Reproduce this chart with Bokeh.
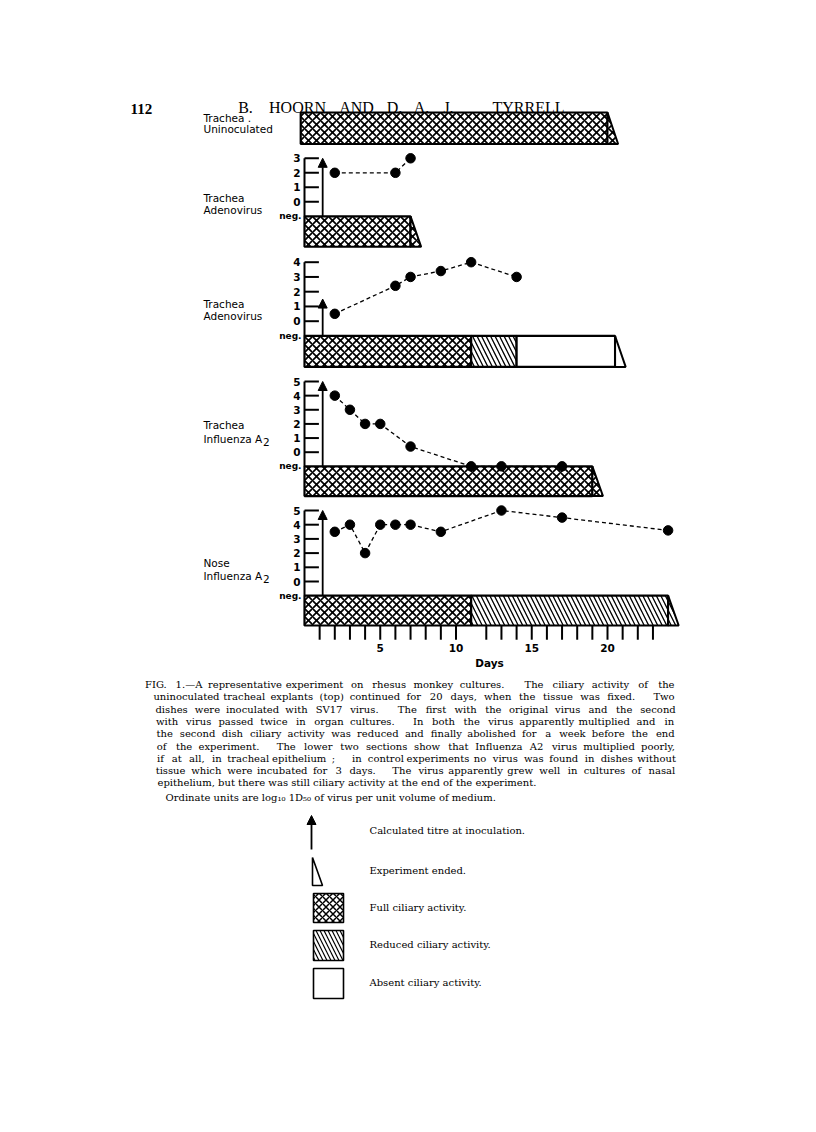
import re
from bokeh.plotting import figure
from bokeh.models import Range1d, Arrow, NormalHead
from bokeh.core.properties import value
from bokeh.embed import file_html
from bokeh.resources import INLINE

# ---------------- data ----------------
NEG = -1  # "neg." level on every titre axis

# panel 1: Trachea, uninoculated (bar only)
p1_seg_start = [-0.25]
p1_seg_end = [20]
p1_seg_state = ["full"]

# panel 2: Trachea, adenovirus (original virus)
p2_days = [2, 6, 7]
p2_titre = [2, 2, 3]
p2_ticks = [0, 1, 2, 3]
p2_inoc = 3
p2_seg_start = [0]
p2_seg_end = [7]
p2_seg_state = ["full"]

# panel 3: Trachea, adenovirus (passed twice)
p3_days = [2, 6, 7, 9, 11, 14]
p3_titre = [0.5, 2.4, 3, 3.4, 4, 3]
p3_ticks = [0, 1, 2, 3, 4]
p3_inoc = 1.5
p3_seg_start = [0, 11, 14]
p3_seg_end = [11, 14, 20.5]
p3_seg_state = ["full", "reduced", "absent"]

# panel 4: Trachea, influenza A2
p4_days = [2, 3, 4, 5, 7, 11, 13, 17]
p4_titre = [4, 3, 2, 2, 0.4, NEG, NEG, NEG]
p4_ticks = [0, 1, 2, 3, 4, 5]
p4_inoc = 5
p4_seg_start = [0]
p4_seg_end = [19]
p4_seg_state = ["full"]

# panel 5: Nose, influenza A2
p5_days = [2, 3, 4, 5, 6, 7, 9, 13, 17, 24]
p5_titre = [3.5, 4, 2, 4, 4, 4, 3.5, 5, 4.5, 3.6]
p5_ticks = [0, 1, 2, 3, 4, 5]
p5_inoc = 5
p5_seg_start = [0, 11]
p5_seg_end = [11, 24]
p5_seg_state = ["full", "reduced"]

inoc_day = 1.2
day_ticks = [1, 2, 3, 4, 5, 6, 7, 8, 9, 10, 12, 13, 14, 15, 16, 17, 18, 19, 20, 21, 22, 23]
day_label_pos = [5, 10, 15, 20]
day_labels = ["5", "10", "15", "20"]

caption_lines = [
    "FIG. 1.\u2014A representative experiment on rhesus monkey cultures.   The ciliary activity of the",
    "uninoculated tracheal explants (top) continued for 20 days, when the tissue was fixed.   Two",
    "dishes were inoculated with SV17 virus.   The first with the original virus and the second",
    "with virus passed twice in organ cultures.   In both the virus apparently multiplied and in",
    "the second dish ciliary activity was reduced and finally abolished for a week before the end",
    "of the experiment.   The lower two sections show that Influenza A2 virus multiplied poorly,",
    "if at all, in tracheal epithelium ;  in control experiments no virus was found in dishes without",
    "tissue which were incubated for 3 days.   The virus apparently grew well in cultures of nasal",
]
caption_last = "epithelium, but there was still ciliary activity at the end of the experiment."
ordinate_line = "Ordinate units are log\u2081\u2080 1D\u2085\u2080 of virus per unit volume of medium."
legend_labels = ["Calculated titre at inoculation.", "Experiment ended.",
                 "Full ciliary activity.", "Reduced ciliary activity.", "Absent ciliary activity."]

# ---------------- layout ----------------
W, H = 800, 1124
X0, PXD = 304.0, 15.15          # page x of day 0, pixels per day
BAR_BOT = -3.1
END_W = 0.7

p = figure(width=W, height=H, output_backend="svg", toolbar_location=None,
           x_range=Range1d((0 - X0) / PXD, (W - X0) / PXD),
           y_range=Range1d(H, 0),
           x_axis_type=None, y_axis_type=None, min_border=0)
p.grid.visible = False
p.outline_line_color = None
p.background_fill_color = "white"
p.border_fill_color = "white"
p.extra_x_ranges = {"px": Range1d(0, W)}

def yrange(y0, u):
    return Range1d((y0 - H) / u, y0 / u)

panel_geo = {"p1": (97.0, 15.0), "p2": (201.3, 14.5), "p3": (320.7, 14.75),
             "p4": (451.7, 14.14), "p5": (581.0, 14.2)}
p.extra_y_ranges = {k: yrange(*v) for k, v in panel_geo.items()}

SANS = value("DejaVu Sans")
SERIF = value("DejaVu Serif")
HATCH = {"full": "x", "reduced": "\\", "absent": " "}

def bars(rn, starts, ends, states):
    for s, e, st in zip(starts, ends, states):
        p.quad(left=[s], right=[e], top=[NEG], bottom=[BAR_BOT], y_range_name=rn,
               fill_color="white", line_color="black", line_width=2.2,
               hatch_pattern=HATCH[st], hatch_color="black",
               hatch_scale=8 if st == "full" else 9,
               hatch_weight=1.7 if st == "full" else 1.3)
    e = ends[-1]
    st = states[-1]
    p.patch(x=[e, e, e + END_W], y=[NEG, BAR_BOT, BAR_BOT], y_range_name=rn,
            fill_color="white", line_color="black", line_width=2.0,
            hatch_pattern=HATCH[st], hatch_color="black",
            hatch_scale=8 if st == "full" else 9,
            hatch_weight=1.7 if st == "full" else 1.3)

def axis(rn, ticks, inoc):
    top = max(ticks)
    p.segment(x0=[0], y0=[NEG], x1=[0], y1=[top], y_range_name=rn,
              line_color="black", line_width=2)
    p.segment(x0=[0] * len(ticks), y0=ticks, x1=[0.95] * len(ticks), y1=ticks,
              y_range_name=rn, line_color="black", line_width=2)
    p.text(x=[300] * len(ticks), y=ticks, text=[str(t) for t in ticks],
           x_range_name="px", y_range_name=rn, text_font=SANS, text_font_style="bold",
           text_font_size="10.5px", text_align="right", text_baseline="middle",
           text_color="black")
    p.text(x=[301], y=[NEG], text=["neg."], x_range_name="px", y_range_name=rn,
           text_font=SANS, text_font_style="bold", text_font_size="9px",
           text_align="right", text_baseline="middle", text_color="black")
    p.add_layout(Arrow(end=NormalHead(size=9, fill_color="black", line_color="black"),
                       x_start=inoc_day, y_start=NEG, x_end=inoc_day, y_end=inoc,
                       y_range_name=rn, line_color="black", line_width=1.8))

def series(rn, days, titre):
    p.line(days, titre, y_range_name=rn, line_color="black", line_width=1.3,
           line_dash="4 3")
    p.scatter(days, titre, y_range_name=rn, size=9.5, color="black")

bars("p1", p1_seg_start, p1_seg_end, p1_seg_state)
for rn, d, t, tk, ino, s, e, st in [
        ("p2", p2_days, p2_titre, p2_ticks, p2_inoc, p2_seg_start, p2_seg_end, p2_seg_state),
        ("p3", p3_days, p3_titre, p3_ticks, p3_inoc, p3_seg_start, p3_seg_end, p3_seg_state),
        ("p4", p4_days, p4_titre, p4_ticks, p4_inoc, p4_seg_start, p4_seg_end, p4_seg_state),
        ("p5", p5_days, p5_titre, p5_ticks, p5_inoc, p5_seg_start, p5_seg_end, p5_seg_state)]:
    bars(rn, s, e, st)
    axis(rn, tk, ino)
    series(rn, d, t)

# day axis below the last panel
p.segment(x0=day_ticks, y0=[BAR_BOT] * len(day_ticks), x1=day_ticks,
          y1=[-4.1] * len(day_ticks), y_range_name="p5", line_color="black", line_width=2)
p.text(x=day_label_pos, y=[647.5] * 4, text=day_labels, text_font=SANS,
       text_font_style="bold", text_font_size="10.5px", text_align="center",
       text_baseline="middle", text_color="black")
p.text(x=[489], y=[662], text=["Days"], x_range_name="px", text_font=SANS,
       text_font_style="bold", text_font_size="10.5px", text_align="center",
       text_baseline="middle", text_color="black")

# panel labels
lab_x = 203
labels = [("Trachea .", 117), ("Uninoculated", 128.5),
          ("Trachea", 197), ("Adenovirus", 209),
          ("Trachea", 303), ("Adenovirus", 315),
          ("Trachea", 424), ("Influenza A", 438),
          ("Nose", 562), ("Influenza A", 575)]
p.text(x=[lab_x] * len(labels), y=[l[1] for l in labels], text=[l[0] for l in labels],
       x_range_name="px", text_font=SANS, text_font_size="10.5px", text_align="left",
       text_baseline="middle", text_color="black")
p.text(x=[262.5, 262.5], y=[441, 578], text=["2", "2"], x_range_name="px", text_font=SANS,
       text_font_size="10.5px", text_align="left", text_baseline="middle", text_color="black")

# running header
p.text(x=[130], y=[108], text=["112"], x_range_name="px", text_font=value("Liberation Serif"),
       text_font_style="bold", text_font_size="15px", text_baseline="middle", text_color="black")
hdr_words = ["B.", "HOORN", "AND", "D.", "A.", "J.", "TYRRELL"]
hdr_x = [245, 297, 356, 394, 421, 448, 528]
p.text(x=hdr_x, y=[107] * len(hdr_words), text=hdr_words, x_range_name="px",
       text_font=value("Liberation Serif"), text_font_size="16px", text_align="center",
       text_baseline="middle", text_color="black")

# caption: justified lines (word widths estimated, words centred at estimated spots)
CW = {"a": 1221, "b": 1311, "c": 1149, "d": 1311, "e": 1212, "f": 739, "g": 1311,
      "h": 1325, "i": 657, "j": 621, "k": 1231, "l": 657, "m": 1958, "n": 1325,
      "o": 1233, "p": 1311, "q": 1311, "r": 956, "s": 1044, "t": 827, "u": 1325,
      "v": 1180, "w": 1698, "x": 1180, "y": 1180, "z": 1084, ".": 651, ",": 651,
      ";": 690, "(": 799, ")": 799, "\u2014": 2048, "I": 760}
def est(s):
    return sum(CW.get(c, 1303 if c.isdigit() else 1500) for c in s) / 2048.0

FS = 10.0
calib = 467.0 / (FS * est(caption_lines[6].replace("  ", " ")))
RIGHT = 673.0
wx, wy, wt = [], [], []
for i, line in enumerate(caption_lines):
    y = 684 + 12.3 * i
    left = 146.0 if i == 0 else 157.0
    parts = re.split(r"( +)", line)
    words = parts[0::2]
    gaps = [2.0 if len(g) > 1 else 1.0 for g in parts[1::2]]
    widths = [calib * FS * est(w) for w in words]
    unit = (RIGHT - left - sum(widths)) / sum(gaps)
    x = left
    for k, w in enumerate(words):
        wx.append(x + widths[k] / 2.0)
        wy.append(y)
        wt.append(w)
        if k < len(gaps):
            x += widths[k] + unit * gaps[k]
p.text(x=wx, y=wy, text=wt, text_align="center", x_range_name="px", text_font=SERIF,
       text_font_size="10px", text_baseline="middle", text_color="black")
p.text(x=[157, 165], y=[684 + 12.3 * 8, 796.5], text=[caption_last, ordinate_line],
       x_range_name="px", text_font=SERIF, text_font_size="10px", text_align="left",
       text_baseline="middle", text_color="black")

# key
p.add_layout(Arrow(end=NormalHead(size=9, fill_color="black", line_color="black"),
                   x_start=311, y_start=849, x_end=311, y_end=815, x_range_name="px",
                   line_color="black", line_width=1.8))
p.patch(x=[312, 312, 322], y=[857, 885, 885], x_range_name="px", fill_color="white",
        line_color="black", line_width=1.6)
for (yt, yb), st in zip([(893, 922), (930, 960), (968, 998)], ["full", "reduced", "absent"]):
    p.quad(left=[313], right=[343], top=[yt], bottom=[yb], x_range_name="px",
           fill_color="white", line_color="black", line_width=1.6,
           hatch_pattern=HATCH[st], hatch_color="black",
           hatch_scale=7 if st == "full" else 8,
           hatch_weight=1.5 if st == "full" else 1.2)
p.text(x=[369] * 5, y=[830, 870, 907, 944, 982], text=legend_labels, x_range_name="px",
       text_font=SERIF, text_font_size="10px", text_align="left", text_baseline="middle",
       text_color="black")

open("out.html", "w").write(file_html(p, INLINE))
